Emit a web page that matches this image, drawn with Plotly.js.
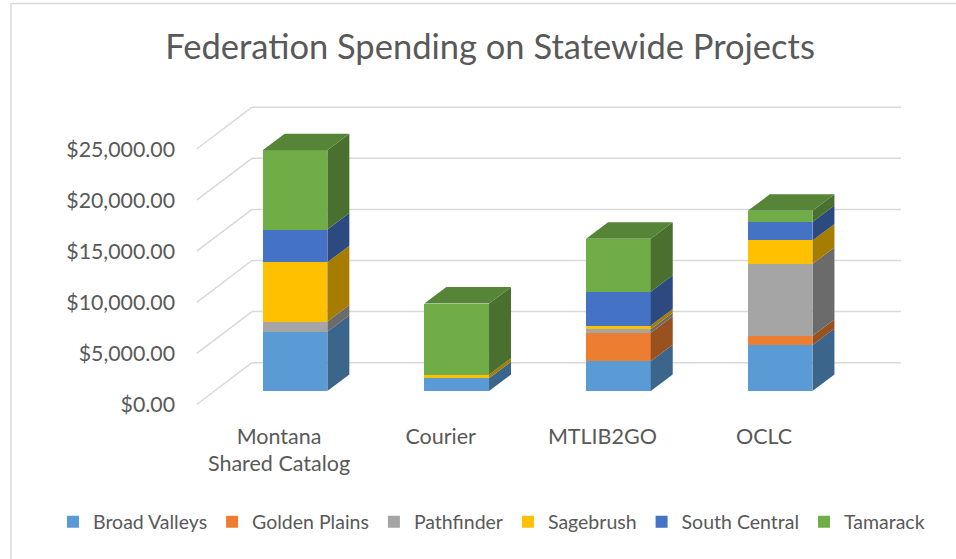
<!DOCTYPE html>
<html>
<head>
<meta charset="utf-8">
<script src="https://cdn.plot.ly/plotly-3.0.1.min.js"></script>
<style>
  html, body { margin: 0; padding: 0; background: #fff; }
  #chart { width: 956px; height: 559px; }
</style>
</head>
<body>
<div id="chart"></div>
<script>
// ---- data ----
const categories = ['Montana<br>Shared Catalog', 'Courier', 'MTLIB2GO', 'OCLC'];
const seriesNames = ['Broad Valleys', 'Golden Plains', 'Pathfinder', 'Sagebrush', 'South Central', 'Tamarack'];
const broadValleys = [5800, 1250, 2900, 4500];
const goldenPlains = [0, 0, 2800, 880];
const pathfinder   = [1000, 0, 350, 7050];
const sagebrush    = [5800, 350, 350, 2300];
const southCentral = [3200, 0, 3300, 1800];
const tamarack     = [7750, 6950, 5200, 1100];
const yTicks = [0, 5000, 10000, 15000, 20000, 25000];

// ---- styles ----
const frontColors = ['#5B9BD5', '#ED7D31', '#A5A5A5', '#FFC000', '#4472C4', '#70AD47'];
function shade(hex, f) {
  const n = parseInt(hex.slice(1), 16);
  const r = Math.round(((n >> 16) & 255) * f), g = Math.round(((n >> 8) & 255) * f), b = Math.round((n & 255) * f);
  return 'rgb(' + r + ',' + g + ',' + b + ')';
}
const W = 956, H = 559;
const M = { l: 0, r: 0, t: 100, b: 149 };
const plotW = W - M.l - M.r, plotH = H - M.t - M.b;
const pxPerCat = 161.7;            // pixels per category step
const firstCenterPx = 295;         // pixel x of first bar centre
const unitsPerPx = 97.85;          // y data units per pixel
const zeroPx = 391;                // pixel y of bar front zero
const xRange = [(M.l - firstCenterPx) / pxPerCat, (W - M.r - firstCenterPx) / pxPerCat];
const yRange = [-(M.t + plotH - zeroPx) * unitsPerPx, (zeroPx - M.t) * unitsPerPx];
const barW = 0.4;
const dx = 22 / pxPerCat;          // depth offset (x)
const dy = 16.5 * unitsPerPx;      // depth offset (y)
const textColor = '#595959';
const fontFam = 'Lato, "Open Sans", sans-serif';

const seriesValues = [broadValleys, goldenPlains, pathfinder, sagebrush, southCentral, tamarack];
const xIdx = categories.map((c, i) => i);

const traces = [];
// front faces
seriesValues.forEach((vals, s) => {
  traces.push({
    type: 'bar', name: seriesNames[s], x: xIdx, y: vals, width: barW,
    marker: { color: frontColors[s], line: { width: 0 } },
    hovertemplate: seriesNames[s] + ': %{y:$,.2f}<extra></extra>'
  });
});
// side faces
const cum = categories.map(() => 0);
seriesValues.forEach((vals, s) => {
  const xs = [], ys = [];
  vals.forEach((v, c) => {
    const base = cum[c];
    if (v > 0) {
      const xr = c + barW / 2;
      xs.push(xr, xr + dx, xr + dx, xr, xr, null);
      ys.push(base, base + dy, base + v + dy, base + v, base, null);
    }
    cum[c] += v;
  });
  traces.push({
    type: 'scatter', mode: 'lines', x: xs, y: ys, fill: 'toself',
    fillcolor: shade(frontColors[s], 0.65), line: { width: 0, color: shade(frontColors[s], 0.65) },
    showlegend: false, hoverinfo: 'skip'
  });
});
// top faces (coloured by topmost non-zero series)
categories.forEach((cat, c) => {
  let topS = 0;
  seriesValues.forEach((vals, s) => { if (vals[c] > 0) topS = s; });
  const tot = cum[c];
  const xl = c - barW / 2, xr = c + barW / 2;
  traces.push({
    type: 'scatter', mode: 'lines',
    x: [xl, xl + dx, xr + dx, xr, xl], y: [tot, tot + dy, tot + dy, tot, tot],
    fill: 'toself', fillcolor: shade(frontColors[topS], 0.77),
    line: { width: 0, color: shade(frontColors[topS], 0.77) },
    showlegend: false, hoverinfo: 'skip'
  });
});

// gridlines (back wall + floor diagonals) anchored to tick values
const backLeft = 252 / W, backRight = 901 / W, frontLeft = 196.7 / W;
const shapes = [];
yTicks.forEach(v => {
  shapes.push({ type: 'line', xref: 'paper', yref: 'y', ysizemode: 'pixel', yanchor: v,
    x0: backLeft, x1: backRight, y0: 28.3, y1: 28.3, line: { color: '#D9D9D9', width: 1.5 }, layer: 'below' });
  shapes.push({ type: 'line', xref: 'paper', yref: 'y', ysizemode: 'pixel', yanchor: v,
    x0: frontLeft, x1: backLeft, y0: -13.5, y1: 28.3, line: { color: '#D9D9D9', width: 1.5 }, layer: 'below' });
});
// chart border (left and top)
const pyToPaper = py => (M.t + plotH - py) / plotH;
shapes.push({ type: 'line', xref: 'paper', yref: 'paper', x0: 11 / W, x1: 11 / W, y0: pyToPaper(3.5), y1: pyToPaper(H + 5),
  line: { color: '#D9D9D9', width: 1.5 } });
shapes.push({ type: 'line', xref: 'paper', yref: 'paper', x0: 11 / W, x1: 1.01, y0: pyToPaper(3.5), y1: pyToPaper(3.5),
  line: { color: '#D9D9D9', width: 1.5 } });

const layout = {
  width: W, height: H,
  margin: M,
  paper_bgcolor: '#ffffff', plot_bgcolor: 'rgba(0,0,0,0)',
  font: { family: fontFam, color: textColor, size: 19 },
  title: { text: 'Federation Spending on Statewide Projects', xref: 'container', yref: 'container',
    x: 490 / W, xanchor: 'center', y: 1 - 47 / H, yanchor: 'middle',
    font: { family: fontFam, size: 34.5, color: textColor } },
  barmode: 'stack',
  showlegend: true,
  legend: { orientation: 'h', traceorder: 'normal', x: 53 / W, xanchor: 'left',
    y: -(522 - (M.t + plotH)) / plotH, yanchor: 'middle',
    font: { family: fontFam, size: 19.5, color: textColor }, itemwidth: 30 },
  xaxis: { range: xRange, tickvals: xIdx, ticktext: categories, showgrid: false, zeroline: false,
    showline: false, ticks: '', ticklabelshift: -16, ticklabelstandoff: 11, automargin: false,
    tickfont: { size: 21.5, color: textColor, family: fontFam }, fixedrange: true },
  yaxis: { range: yRange, tickvals: yTicks, tickformat: '$,.2f', showgrid: false, zeroline: false,
    showline: false, ticks: '', anchor: 'free', position: 196 / W, ticklabelshift: 14,
    ticklabelstandoff: 21, automargin: false,
    tickfont: { size: 21.3, color: textColor, family: fontFam }, fixedrange: true },
  shapes: shapes
};

Plotly.newPlot('chart', traces, layout, { displayModeBar: false, responsive: false });
</script>
</body>
</html>
